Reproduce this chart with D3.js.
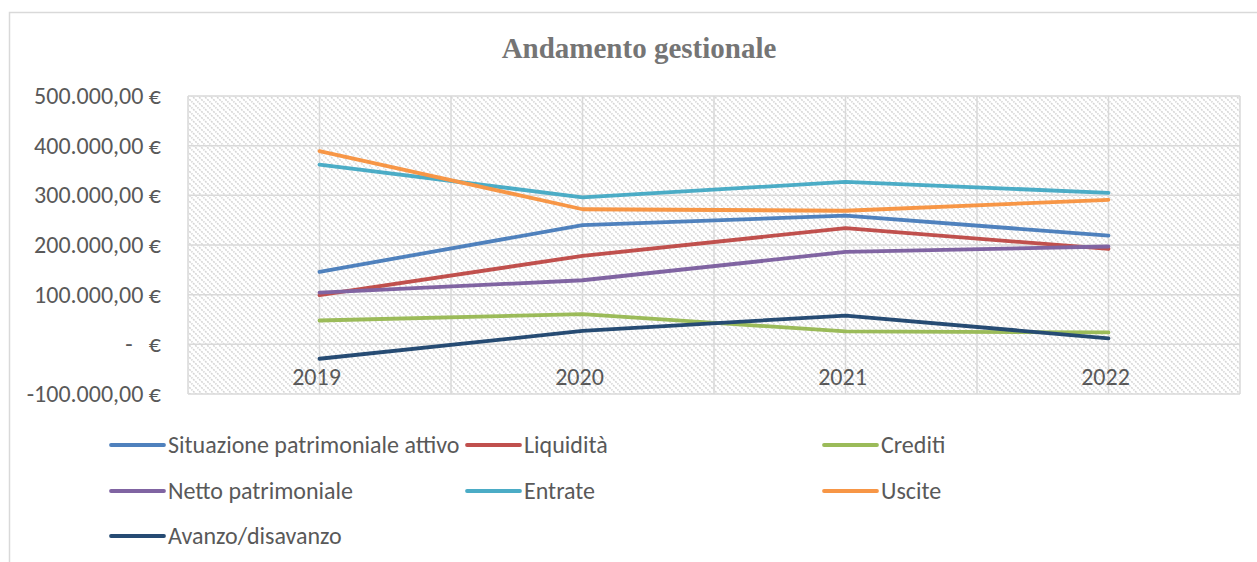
<!DOCTYPE html>
<html>
<head>
<meta charset="utf-8">
<script src="https://cdn.jsdelivr.net/npm/d3@7"></script>
<style>
  body { margin: 0; background: #fff; }
  svg text { font-family: Carlito, Calibri, "Open Sans", "Noto Sans", sans-serif; }
  svg text.title { font-family: "Liberation Serif", "DejaVu Serif", serif; }
</style>
</head>
<body>
<svg id="chart" width="1257" height="562"></svg>
<script>
// chart data
const years = ["2019", "2020", "2021", "2022"];
const seriesNames = ["Situazione patrimoniale attivo", "Liquidità", "Crediti", "Netto patrimoniale", "Entrate", "Uscite", "Avanzo/disavanzo"];
const seriesColors = ["#4f81bd", "#c0504d", "#9bbb59", "#8064a2", "#4bacc6", "#f79646", "#264b73"];
const attivo = [146000, 240000, 259000, 219000];
const liquidita = [99000, 178000, 234000, 192000];
const crediti = [48000, 61000, 26000, 24000];
const netto = [104000, 129000, 186000, 197000];
const entrate = [362000, 296000, 327000, 305000];
const uscite = [389000, 272000, 269000, 291000];
const avanzo = [-29000, 27000, 58000, 12000];
const yTicks = [-100000, 0, 100000, 200000, 300000, 400000, 500000];

const allSeries = [attivo, liquidita, crediti, netto, entrate, uscite, avanzo];

const svg = d3.select("#chart");
const plotLeft = 188, plotRight = 1240, plotTop = 96, plotBottom = 394;

// outer chart frame
svg.append("rect")
    .attr("x", 9.5).attr("y", 12.5)
    .attr("width", 1260).attr("height", 560)
    .attr("fill", "none").attr("stroke", "#d9d9d9").attr("stroke-width", 1.5);

// hatch pattern for plot area
const defs = svg.append("defs");
const pat = defs.append("pattern")
    .attr("id", "hatch")
    .attr("patternUnits", "userSpaceOnUse")
    .attr("width", 6).attr("height", 6);
pat.append("path")
    .attr("d", "M-1,-1 L7,7 M-1,5 L1,7 M5,-1 L7,1")
    .attr("stroke", "#d6d6d6").attr("stroke-width", 1.6)
    .attr("stroke-dasharray", "2,1");

const x = d3.scaleBand().domain(years).range([plotLeft, plotRight]);
const y = d3.scaleLinear().domain([-100000, 500000]).range([plotBottom, plotTop]);
const cx = d => x(d) + x.bandwidth() / 2;

svg.append("rect")
    .attr("x", plotLeft).attr("y", plotTop)
    .attr("width", plotRight - plotLeft).attr("height", plotBottom - plotTop)
    .attr("fill", "url(#hatch)");

// horizontal gridlines
svg.append("g").selectAll("line").data(yTicks).join("line")
    .attr("x1", plotLeft).attr("x2", plotRight)
    .attr("y1", d => y(d)).attr("y2", d => y(d))
    .attr("stroke", "#d9d9d9").attr("stroke-width", 1.5);

// vertical gridlines at band edges and centers
const vLines = [];
years.forEach(yr => { vLines.push(x(yr)); vLines.push(cx(yr)); });
vLines.push(plotRight);
svg.append("g").selectAll("line").data(vLines).join("line")
    .attr("x1", d => d).attr("x2", d => d)
    .attr("y1", plotTop).attr("y2", plotBottom)
    .attr("stroke", "#d9d9d9").attr("stroke-width", 1.5);

// y labels in accounting format
const fmt = v => {
    if (v === 0) return "-   €";
    const s = d3.format(",.2f")(Math.abs(v)).replace(/,/g, "#").replace(".", ",").replace(/#/g, ".");
    return (v < 0 ? "-" : "") + s + " €";
};
svg.append("g").selectAll("text").data(yTicks).join("text")
    .attr("x", 161).attr("y", d => y(d))
    .attr("dy", "0.33em")
    .attr("text-anchor", "end")
    .attr("font-size", 24)
    .attr("fill", "#595959")
    .style("white-space", "pre")
    .text(fmt);

// x labels sit under the zero line
svg.append("g").selectAll("text").data(years).join("text")
    .attr("x", d => cx(d) - 3).attr("y", y(0) + 41)
    .attr("text-anchor", "middle")
    .attr("font-size", 24)
    .attr("fill", "#595959")
    .text(d => d);

// title
svg.append("text")
    .attr("class", "title")
    .attr("x", 639).attr("y", 58)
    .attr("text-anchor", "middle")
    .attr("font-weight", "bold")
    .attr("font-size", 29)
    .attr("fill", "#757575")
    .text("Andamento gestionale");

// series lines
const line = d3.line().x((d, i) => cx(years[i])).y(d => y(d));
svg.append("g").selectAll("path").data(allSeries).join("path")
    .attr("d", line)
    .attr("fill", "none")
    .attr("stroke", (d, i) => seriesColors[i])
    .attr("stroke-width", 3.8)
    .attr("stroke-linecap", "round")
    .attr("stroke-linejoin", "round");

// legend
const colX = [111, 467, 824];
const rowY = [445, 491, 536];
const leg = svg.append("g").selectAll("g").data(seriesNames).join("g")
    .attr("transform", (d, i) => `translate(${colX[i % 3]},${rowY[Math.floor(i / 3)]})`);
leg.append("line")
    .attr("x1", 0).attr("x2", 53)
    .attr("stroke", (d, i) => seriesColors[i])
    .attr("stroke-width", 3.8)
    .attr("stroke-linecap", "round");
leg.append("text")
    .attr("x", 57).attr("dy", "0.33em")
    .attr("font-size", 24)
    .attr("fill", "#595959")
    .text(d => d);
</script>
</body>
</html>
